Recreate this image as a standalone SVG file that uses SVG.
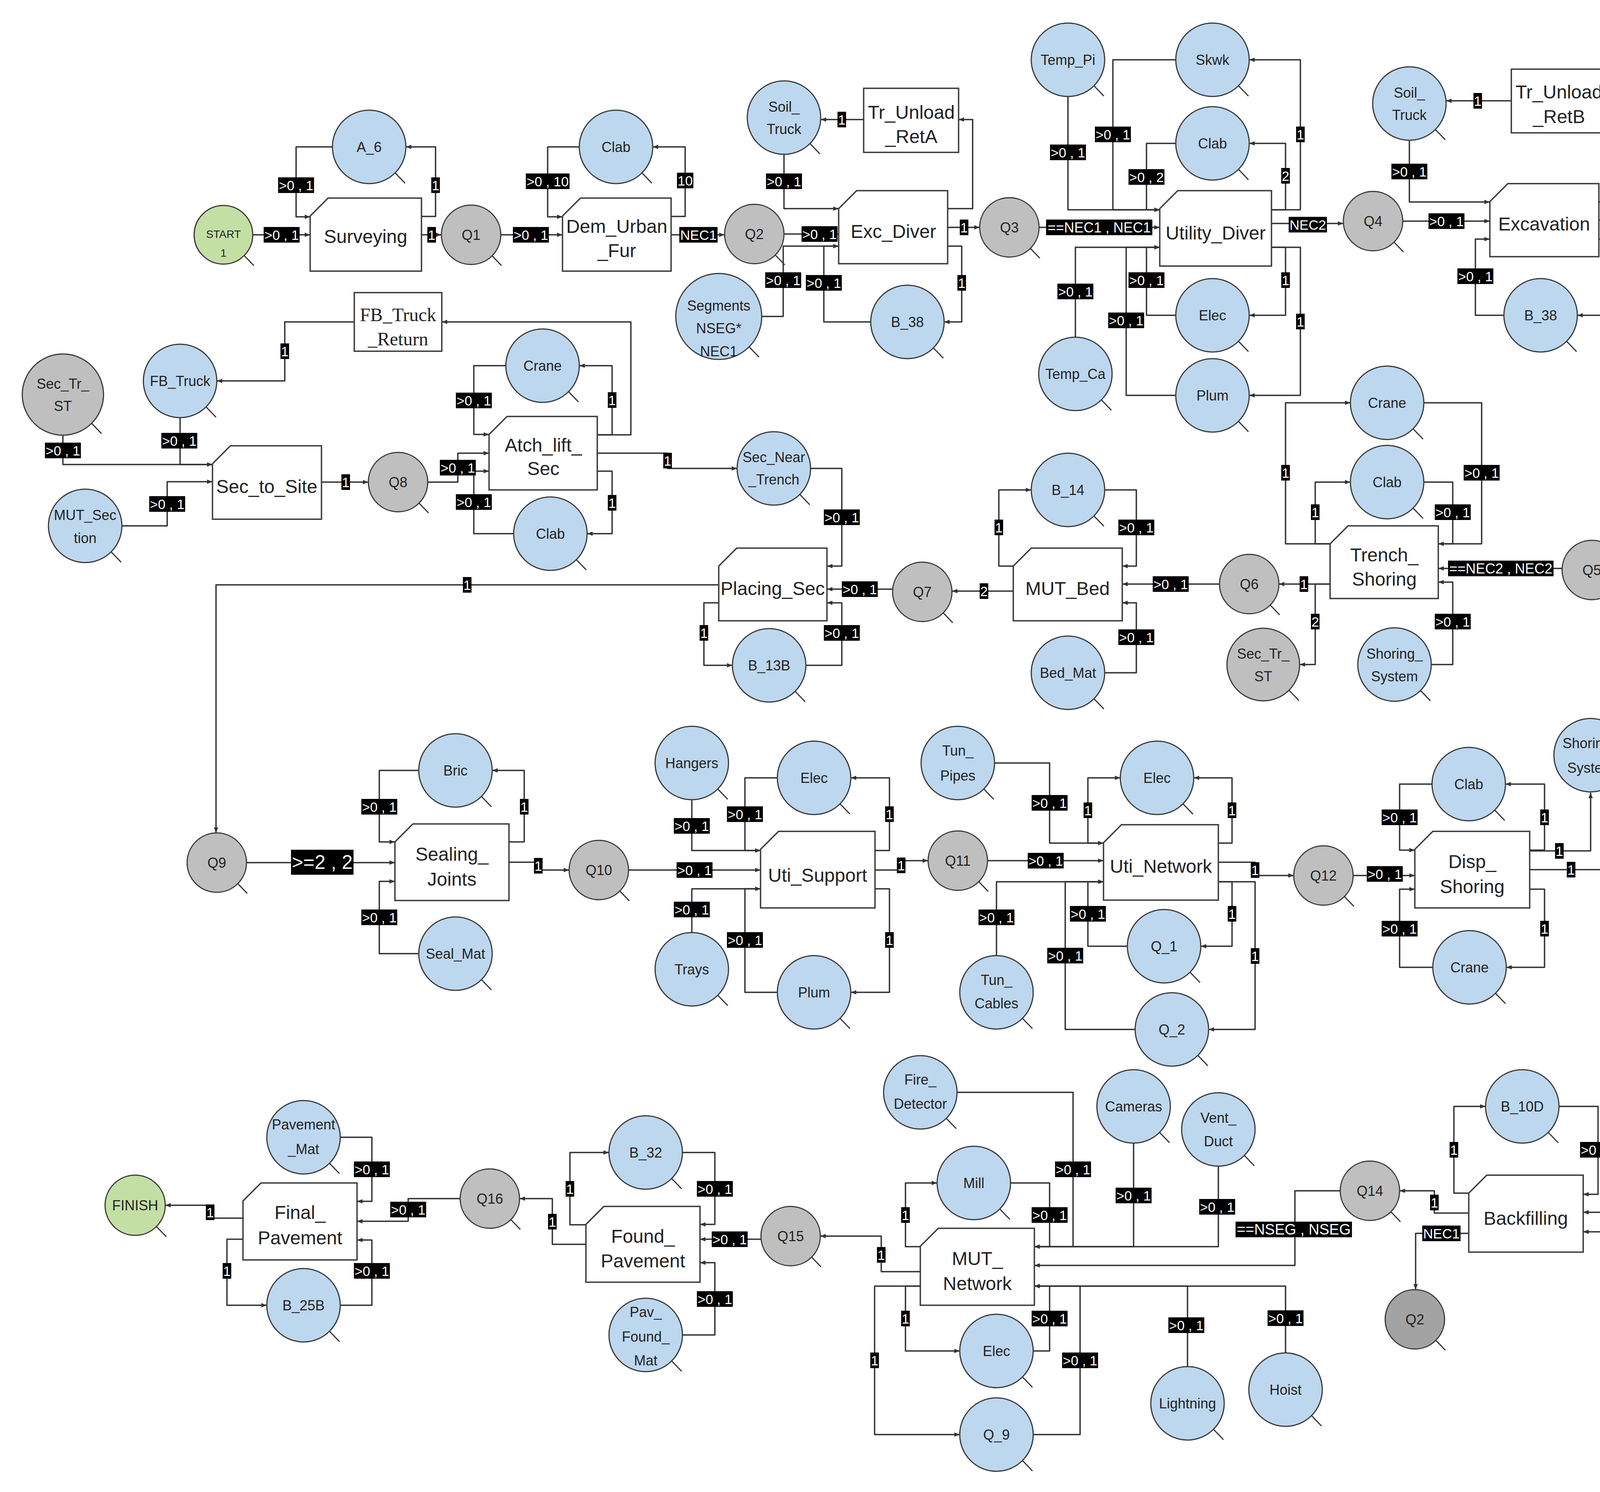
<svg xmlns="http://www.w3.org/2000/svg" width="4435" height="3819" viewBox="0 0 4435 3819">
<defs>
<marker id="a" viewBox="0 0 10 10" refX="10" refY="5" markerWidth="14" markerHeight="14" markerUnits="userSpaceOnUse" orient="auto"><path d="M0,1 L10,5 L0,9 z" fill="#333"/></marker>
<style>
.r{fill:#bdd7ee;stroke:#3a3a3a;stroke-width:3}
.q{fill:#bfbfbf;stroke:#3a3a3a;stroke-width:3}
.g{fill:#c4dfa4;stroke:#3a3a3a;stroke-width:3}
.d{fill:#a3a3a3;stroke:#3a3a3a;stroke-width:3}
.b{fill:#fff;stroke:#3a3a3a;stroke-width:3.5}
.t{stroke:#333;stroke-width:3}
.n{font-family:"Liberation Sans",Arial,sans-serif;font-size:36px;fill:#222;text-anchor:middle;dominant-baseline:central}
.bt{font-size:48px}
.sf{font-family:"Liberation Serif","Times New Roman",serif;font-size:48px}
.e{fill:none;stroke:#333;stroke-width:3.5;stroke-linejoin:round;marker-end:url(#a)}
.ln{fill:none;stroke:#333;stroke-width:3.5;stroke-linejoin:round}
.lb{fill:#000}
.lt{font-family:"Liberation Sans",Arial,sans-serif;font-size:35px;fill:#fff;text-anchor:middle;dominant-baseline:central}
</style>
</defs>
<rect width="4435" height="3819" fill="#fff"/>
<g id="connectors">
<path class="e" d="M648,601 H794"/>
<path class="e" d="M851,376 H758 V555 H794"/>
<path class="e" d="M1079,554 H1115 V376 H1039"/>
<path class="e" d="M1079,601 H1130"/>
<path class="e" d="M1282,601 H1440"/>
<path class="e" d="M1483,376 H1402 V555 H1440"/>
<path class="e" d="M1718,554 H1754 V376 H1671"/>
<path class="e" d="M1718,601 H1855"/>
<path class="e" d="M2007,599 H2147"/>
<path class="e" d="M2007,395 V534 H2147"/>
<path class="e" d="M1950,810 H2005 V630 H2147"/>
<path class="e" d="M2229,824 H2109 V630 H2147"/>
<path class="e" d="M2426,534 H2490 V306 H2454"/>
<path class="e" d="M2211,306 H2101"/>
<path class="e" d="M2426,630 H2462 V824 H2417"/>
<path class="e" d="M2426,582 H2508"/>
<path class="e" d="M2660,582 H2969"/>
<path class="e" d="M2734,247 V537 H2969"/>
<path class="e" d="M3010,153 H2849 V537 H2969"/>
<path class="e" d="M3010,367 H2935 V537 H2969"/>
<path class="e" d="M2753,863 V633 H2969"/>
<path class="e" d="M3010,807 H2935 V633 H2969"/>
<path class="e" d="M3010,1012 H2883 V633 H2969"/>
<path class="e" d="M3255,537 H3329 V153 H3198"/>
<path class="e" d="M3255,537 H3291 V367 H3198"/>
<path class="e" d="M3255,633 H3291 V807 H3198"/>
<path class="e" d="M3255,633 H3329 V1012 H3198"/>
<path class="e" d="M3255,572 H3439"/>
<path class="e" d="M3591,566 H3814"/>
<path class="e" d="M3608,359 V517 H3814"/>
<path class="e" d="M4093,517 H4148 V258 H4113"/>
<path class="e" d="M3869,258 H3702"/>
<path class="e" d="M4093,612 H4129 V807 H4038"/>
<path class="e" d="M3850,807 H3777 V612 H3814"/>
<path class="e" d="M4093,563 H4186 V1459 H4151"/>
<path class="e" d="M3999,1455 H3682"/>
<path class="e" d="M3405,1392 H3291 V1031 H3457"/>
<path class="e" d="M3405,1392 H3367 V1234 H3457"/>
<path class="e" d="M3645,1031 H3793 V1392 H3682"/>
<path class="e" d="M3645,1234 H3719 V1392 H3682"/>
<path class="e" d="M3405,1495 H3274"/>
<path class="e" d="M3405,1495 H3367 V1701 H3327"/>
<path class="e" d="M3664,1701 H3719 V1490 H3682"/>
<path class="e" d="M3122,1495 H2873"/>
<path class="e" d="M2594,1449 H2557 V1254 H2640"/>
<path class="e" d="M2828,1254 H2909 V1449 H2873"/>
<path class="e" d="M2828,1722 H2909 V1543 H2873"/>
<path class="e" d="M2594,1513 H2437"/>
<path class="e" d="M2285,1508 H2117"/>
<path class="e" d="M2075,1199 H2155 V1449 H2117"/>
<path class="e" d="M1840,1543 H1802 V1703 H1875"/>
<path class="e" d="M2063,1703 H2155 V1543 H2117"/>
<path class="e" d="M1840,1497 H553 V2132"/>
<path class="e" d="M1529,1160 H1709 V1199 H1887"/>
<path class="e" d="M1529,1113 H1615 V824 H1131"/>
<path class="e" d="M1529,1113 H1567 V936 H1483"/>
<path class="e" d="M1529,1206 H1567 V1366 H1503"/>
<path class="e" d="M1295,936 H1213 V1112 H1252"/>
<path class="e" d="M1095,1234 H1172 V1160 H1252"/>
<path class="e" d="M1315,1366 H1213 V1206 H1252"/>
<path class="e" d="M823,1234 H943"/>
<path class="e" d="M907,824 H729 V975 H555"/>
<path class="e" d="M461,1069 V1189 H544"/>
<path class="e" d="M161,1114 V1189 H544"/>
<path class="e" d="M312,1346 H428 V1233 H544"/>
<path class="e" d="M631,2208 H1011"/>
<path class="e" d="M1072,1972 H971 V2155 H1011"/>
<path class="e" d="M1303,2155 H1342 V1972 H1260"/>
<path class="e" d="M1072,2441 H971 V2256 H1011"/>
<path class="e" d="M1303,2207 H1378 V2227 H1457"/>
<path class="e" d="M1609,2227 H1947"/>
<path class="e" d="M1771,2047 V2177 H1947"/>
<path class="e" d="M1990,1991 H1907 V2177 H1947"/>
<path class="e" d="M2240,2177 H2277 V1991 H2178"/>
<path class="e" d="M1771,2387 V2275 H1947"/>
<path class="e" d="M1990,2540 H1907 V2275 H1947"/>
<path class="e" d="M2240,2275 H2277 V2540 H2178"/>
<path class="e" d="M2240,2227 H2307 V2203 H2376"/>
<path class="e" d="M2528,2203 H2825"/>
<path class="e" d="M2546,1953 H2687 V2158 H2825"/>
<path class="e" d="M2825,2158 H2785 V1991 H2868"/>
<path class="e" d="M3119,2158 H3154 V1991 H3056"/>
<path class="e" d="M2551,2446 V2257 H2825"/>
<path class="e" d="M2886,2422 H2785 V2257 H2825"/>
<path class="e" d="M2906,2635 H2727 V2257 H2825"/>
<path class="e" d="M3119,2207 H3213 V2241 H3312"/>
<path class="e" d="M3119,2257 H3154 V2422 H3074"/>
<path class="e" d="M3119,2257 H3213 V2635 H3094"/>
<path class="e" d="M3464,2241 H3622"/>
<path class="e" d="M3666,2007 H3583 V2176 H3622"/>
<path class="e" d="M3916,2176 H3954 V2007 H3854"/>
<path class="e" d="M3916,2178 H4072 V2029"/>
<path class="e" d="M3916,2226 H4130"/>
<path class="e" d="M3668,2476 H3583 V2276 H3622"/>
<path class="e" d="M3916,2276 H3954 V2476 H3856"/>
<path class="e" d="M4284,2226 H4323 V3103 H4053"/>
<path class="e" d="M3760,3054 H3722 V2832 H3803"/>
<path class="e" d="M3991,2832 H4091 V3057 H4053"/>
<path class="e" d="M4228,3247 V3153 H4053"/>
<path class="e" d="M3760,3105 H3672 V3048 H3583"/>
<path class="e" d="M3760,3157 H3624 V3301"/>
<path class="e" d="M3431,3048 H3315 V3239 H2648"/>
<path class="e" d="M3119,2985 V3191 H2648"/>
<path class="e" d="M2902,2926 V3191 H2648"/>
<path class="e" d="M2450,2796 H2747 V3191 H2648"/>
<path class="e" d="M2587,3028 H2687 V3191 H2648"/>
<path class="e" d="M2356,3191 H2318 V3028 H2399"/>
<path class="e" d="M3040,3498 V3292 H2648"/>
<path class="e" d="M3291,3463 V3292 H2648"/>
<path class="e" d="M2645,3458 H2687 V3292 H2648"/>
<path class="e" d="M2356,3292 H2318 V3458 H2457"/>
<path class="e" d="M2356,3292 H2239 V3672 H2457"/>
<path class="e" d="M2645,3672 H2765 V3292 H2648"/>
<path class="e" d="M2356,3255 H2256 V3164 H2100"/>
<path class="e" d="M1948,3172 H1792"/>
<path class="e" d="M1747,2950 H1830 V3134 H1792"/>
<path class="e" d="M1747,3417 H1830 V3232 H1792"/>
<path class="e" d="M1500,3135 H1459 V2950 H1559"/>
<path class="e" d="M1500,3185 H1414 V3068 H1330"/>
<path class="e" d="M1178,3068 H1045 V3126 H914"/>
<path class="e" d="M871,2911 H952 V3075 H914"/>
<path class="e" d="M871,3341 H952 V3174 H914"/>
<path class="e" d="M622,3172 H581 V3341 H683"/>
<path class="e" d="M622,3118 H538 V3085 H423"/>
<g id="labels">
<rect class="lb" x="675" y="581" width="92" height="40"/><text class="lt" x="721" y="601">&gt;0 , 1</text>
<rect class="lb" x="712" y="454" width="92" height="40"/><text class="lt" x="758" y="474">&gt;0 , 1</text>
<rect class="lb" x="1104" y="454" width="22" height="40"/><text class="lt" x="1115" y="474">1</text>
<rect class="lb" x="1094" y="581" width="22" height="40"/><text class="lt" x="1105" y="601">1</text>
<rect class="lb" x="1313" y="581" width="92" height="40"/><text class="lt" x="1359" y="601">&gt;0 , 1</text>
<rect class="lb" x="1346" y="444" width="112" height="40"/><text class="lt" x="1402" y="464">&gt;0 , 10</text>
<rect class="lb" x="1733" y="442" width="42" height="40"/><text class="lt" x="1754" y="462">10</text>
<rect class="lb" x="1739" y="581" width="98" height="40"/><text class="lt" x="1788" y="601">NEC1</text>
<rect class="lb" x="2052" y="579" width="92" height="40"/><text class="lt" x="2098" y="599">&gt;0 , 1</text>
<rect class="lb" x="1961" y="444" width="92" height="40"/><text class="lt" x="2007" y="464">&gt;0 , 1</text>
<rect class="lb" x="1959" y="697" width="92" height="40"/><text class="lt" x="2005" y="717">&gt;0 , 1</text>
<rect class="lb" x="2063" y="704" width="92" height="40"/><text class="lt" x="2109" y="724">&gt;0 , 1</text>
<rect class="lb" x="2144" y="286" width="22" height="40"/><text class="lt" x="2155" y="306">1</text>
<rect class="lb" x="2451" y="704" width="22" height="40"/><text class="lt" x="2462" y="724">1</text>
<rect class="lb" x="2457" y="562" width="22" height="40"/><text class="lt" x="2468" y="582">1</text>
<rect class="lb" x="2678" y="562" width="272" height="40"/><text class="lt" x="2814" y="582" style="font-size:36px">==NEC1 , NEC1</text>
<rect class="lb" x="2688" y="370" width="92" height="40"/><text class="lt" x="2734" y="390">&gt;0 , 1</text>
<rect class="lb" x="2803" y="324" width="92" height="40"/><text class="lt" x="2849" y="344">&gt;0 , 1</text>
<rect class="lb" x="2889" y="433" width="92" height="40"/><text class="lt" x="2935" y="453">&gt;0 , 2</text>
<rect class="lb" x="2707" y="726" width="92" height="40"/><text class="lt" x="2753" y="746">&gt;0 , 1</text>
<rect class="lb" x="2889" y="697" width="92" height="40"/><text class="lt" x="2935" y="717">&gt;0 , 1</text>
<rect class="lb" x="2837" y="800" width="92" height="40"/><text class="lt" x="2883" y="820">&gt;0 , 1</text>
<rect class="lb" x="3318" y="324" width="22" height="40"/><text class="lt" x="3329" y="344">1</text>
<rect class="lb" x="3280" y="430" width="22" height="40"/><text class="lt" x="3291" y="450">2</text>
<rect class="lb" x="3280" y="697" width="22" height="40"/><text class="lt" x="3291" y="717">1</text>
<rect class="lb" x="3318" y="803" width="22" height="40"/><text class="lt" x="3329" y="823">1</text>
<rect class="lb" x="3299" y="555" width="98" height="40"/><text class="lt" x="3348" y="575">NEC2</text>
<rect class="lb" x="3657" y="546" width="92" height="40"/><text class="lt" x="3703" y="566">&gt;0 , 1</text>
<rect class="lb" x="3562" y="419" width="92" height="40"/><text class="lt" x="3608" y="439">&gt;0 , 1</text>
<rect class="lb" x="3772" y="238" width="22" height="40"/><text class="lt" x="3783" y="258">1</text>
<rect class="lb" x="4118" y="687" width="22" height="40"/><text class="lt" x="4129" y="707">1</text>
<rect class="lb" x="3731" y="687" width="92" height="40"/><text class="lt" x="3777" y="707">&gt;0 , 1</text>
<rect class="lb" x="4175" y="992" width="22" height="40"/><text class="lt" x="4186" y="1012">1</text>
<rect class="lb" x="3707" y="1435" width="270" height="40"/><text class="lt" x="3842" y="1455" style="font-size:36px">==NEC2 , NEC2</text>
<rect class="lb" x="3280" y="1190" width="22" height="40"/><text class="lt" x="3291" y="1210">1</text>
<rect class="lb" x="3356" y="1291" width="22" height="40"/><text class="lt" x="3367" y="1311">1</text>
<rect class="lb" x="3747" y="1190" width="92" height="40"/><text class="lt" x="3793" y="1210">&gt;0 , 1</text>
<rect class="lb" x="3673" y="1291" width="92" height="40"/><text class="lt" x="3719" y="1311">&gt;0 , 1</text>
<rect class="lb" x="3327" y="1475" width="22" height="40"/><text class="lt" x="3338" y="1495">1</text>
<rect class="lb" x="3356" y="1571" width="22" height="40"/><text class="lt" x="3367" y="1591">2</text>
<rect class="lb" x="3673" y="1571" width="92" height="40"/><text class="lt" x="3719" y="1591">&gt;0 , 1</text>
<rect class="lb" x="2951" y="1475" width="92" height="40"/><text class="lt" x="2997" y="1495">&gt;0 , 1</text>
<rect class="lb" x="2546" y="1330" width="22" height="40"/><text class="lt" x="2557" y="1350">1</text>
<rect class="lb" x="2863" y="1330" width="92" height="40"/><text class="lt" x="2909" y="1350">&gt;0 , 1</text>
<rect class="lb" x="2863" y="1611" width="92" height="40"/><text class="lt" x="2909" y="1631">&gt;0 , 1</text>
<rect class="lb" x="2508" y="1493" width="22" height="40"/><text class="lt" x="2519" y="1513">2</text>
<rect class="lb" x="2155" y="1488" width="92" height="40"/><text class="lt" x="2201" y="1508">&gt;0 , 1</text>
<rect class="lb" x="2109" y="1304" width="92" height="40"/><text class="lt" x="2155" y="1324">&gt;0 , 1</text>
<rect class="lb" x="1791" y="1600" width="22" height="40"/><text class="lt" x="1802" y="1620">1</text>
<rect class="lb" x="2109" y="1600" width="92" height="40"/><text class="lt" x="2155" y="1620">&gt;0 , 1</text>
<rect class="lb" x="1185" y="1477" width="22" height="40"/><text class="lt" x="1196" y="1497">1</text>
<rect class="lb" x="1698" y="1159" width="22" height="40"/><text class="lt" x="1709" y="1179">1</text>
<rect class="lb" x="1556" y="1004" width="22" height="40"/><text class="lt" x="1567" y="1024">1</text>
<rect class="lb" x="1556" y="1267" width="22" height="40"/><text class="lt" x="1567" y="1287">1</text>
<rect class="lb" x="1167" y="1005" width="92" height="40"/><text class="lt" x="1213" y="1025">&gt;0 , 1</text>
<rect class="lb" x="1126" y="1177" width="92" height="40"/><text class="lt" x="1172" y="1197">&gt;0 , 1</text>
<rect class="lb" x="1167" y="1265" width="92" height="40"/><text class="lt" x="1213" y="1285">&gt;0 , 1</text>
<rect class="lb" x="874" y="1214" width="22" height="40"/><text class="lt" x="885" y="1234">1</text>
<rect class="lb" x="718" y="879" width="22" height="40"/><text class="lt" x="729" y="899">1</text>
<rect class="lb" x="413" y="1108" width="92" height="40"/><text class="lt" x="459" y="1128">&gt;0 , 1</text>
<rect class="lb" x="115" y="1133" width="92" height="40"/><text class="lt" x="161" y="1153">&gt;0 , 1</text>
<rect class="lb" x="382" y="1270" width="92" height="40"/><text class="lt" x="428" y="1290">&gt;0 , 1</text>
<rect class="lb" x="745" y="2175" width="160" height="64"/><text class="lt" x="825" y="2207" style="font-size:50px">&gt;=2 , 2</text>
<rect class="lb" x="925" y="2045" width="92" height="40"/><text class="lt" x="971" y="2065">&gt;0 , 1</text>
<rect class="lb" x="1331" y="2045" width="22" height="40"/><text class="lt" x="1342" y="2065">1</text>
<rect class="lb" x="925" y="2328" width="92" height="40"/><text class="lt" x="971" y="2348">&gt;0 , 1</text>
<rect class="lb" x="1367" y="2196" width="22" height="40"/><text class="lt" x="1378" y="2216">1</text>
<rect class="lb" x="1732" y="2207" width="92" height="40"/><text class="lt" x="1778" y="2227">&gt;0 , 1</text>
<rect class="lb" x="1725" y="2094" width="92" height="40"/><text class="lt" x="1771" y="2114">&gt;0 , 1</text>
<rect class="lb" x="1861" y="2064" width="92" height="40"/><text class="lt" x="1907" y="2084">&gt;0 , 1</text>
<rect class="lb" x="2266" y="2064" width="22" height="40"/><text class="lt" x="2277" y="2084">1</text>
<rect class="lb" x="1725" y="2308" width="92" height="40"/><text class="lt" x="1771" y="2328">&gt;0 , 1</text>
<rect class="lb" x="1861" y="2386" width="92" height="40"/><text class="lt" x="1907" y="2406">&gt;0 , 1</text>
<rect class="lb" x="2266" y="2386" width="22" height="40"/><text class="lt" x="2277" y="2406">1</text>
<rect class="lb" x="2296" y="2195" width="22" height="40"/><text class="lt" x="2307" y="2215">1</text>
<rect class="lb" x="2631" y="2183" width="92" height="40"/><text class="lt" x="2677" y="2203">&gt;0 , 1</text>
<rect class="lb" x="2641" y="2035" width="92" height="40"/><text class="lt" x="2687" y="2055">&gt;0 , 1</text>
<rect class="lb" x="2774" y="2054" width="22" height="40"/><text class="lt" x="2785" y="2074">1</text>
<rect class="lb" x="3143" y="2054" width="22" height="40"/><text class="lt" x="3154" y="2074">1</text>
<rect class="lb" x="2505" y="2328" width="92" height="40"/><text class="lt" x="2551" y="2348">&gt;0 , 1</text>
<rect class="lb" x="2739" y="2319" width="92" height="40"/><text class="lt" x="2785" y="2339">&gt;0 , 1</text>
<rect class="lb" x="2681" y="2426" width="92" height="40"/><text class="lt" x="2727" y="2446">&gt;0 , 1</text>
<rect class="lb" x="3202" y="2207" width="22" height="40"/><text class="lt" x="3213" y="2227">1</text>
<rect class="lb" x="3143" y="2319" width="22" height="40"/><text class="lt" x="3154" y="2339">1</text>
<rect class="lb" x="3202" y="2427" width="22" height="40"/><text class="lt" x="3213" y="2447">1</text>
<rect class="lb" x="3499" y="2217" width="92" height="40"/><text class="lt" x="3545" y="2237">&gt;0 , 1</text>
<rect class="lb" x="3537" y="2072" width="92" height="40"/><text class="lt" x="3583" y="2092">&gt;0 , 1</text>
<rect class="lb" x="3943" y="2072" width="22" height="40"/><text class="lt" x="3954" y="2092">1</text>
<rect class="lb" x="3981" y="2158" width="22" height="40"/><text class="lt" x="3992" y="2178">1</text>
<rect class="lb" x="4011" y="2206" width="22" height="40"/><text class="lt" x="4022" y="2226">1</text>
<rect class="lb" x="3537" y="2357" width="92" height="40"/><text class="lt" x="3583" y="2377">&gt;0 , 1</text>
<rect class="lb" x="3943" y="2357" width="22" height="40"/><text class="lt" x="3954" y="2377">1</text>
<rect class="lb" x="4277" y="2647" width="92" height="40"/><text class="lt" x="4323" y="2667">&gt;0 , 1</text>
<rect class="lb" x="3711" y="2923" width="22" height="40"/><text class="lt" x="3722" y="2943">1</text>
<rect class="lb" x="4045" y="2923" width="92" height="40"/><text class="lt" x="4091" y="2943">&gt;0 , 1</text>
<rect class="lb" x="4182" y="3180" width="92" height="40"/><text class="lt" x="4228" y="3200">&gt;0 , 1</text>
<rect class="lb" x="3661" y="3058" width="22" height="40"/><text class="lt" x="3672" y="3078">1</text>
<rect class="lb" x="3641" y="3137" width="98" height="40"/><text class="lt" x="3690" y="3157">NEC1</text>
<rect class="lb" x="3163" y="3127" width="298" height="40"/><text class="lt" x="3312" y="3147" style="font-size:38px">==NSEG , NSEG</text>
<rect class="lb" x="3070" y="3069" width="92" height="40"/><text class="lt" x="3116" y="3089">&gt;0 , 1</text>
<rect class="lb" x="2856" y="3040" width="92" height="40"/><text class="lt" x="2902" y="3060">&gt;0 , 1</text>
<rect class="lb" x="2701" y="2973" width="92" height="40"/><text class="lt" x="2747" y="2993">&gt;0 , 1</text>
<rect class="lb" x="2641" y="3090" width="92" height="40"/><text class="lt" x="2687" y="3110">&gt;0 , 1</text>
<rect class="lb" x="2307" y="3090" width="22" height="40"/><text class="lt" x="2318" y="3110">1</text>
<rect class="lb" x="2991" y="3372" width="92" height="40"/><text class="lt" x="3037" y="3392">&gt;0 , 1</text>
<rect class="lb" x="3245" y="3354" width="92" height="40"/><text class="lt" x="3291" y="3374">&gt;0 , 1</text>
<rect class="lb" x="2641" y="3355" width="92" height="40"/><text class="lt" x="2687" y="3375">&gt;0 , 1</text>
<rect class="lb" x="2307" y="3355" width="22" height="40"/><text class="lt" x="2318" y="3375">1</text>
<rect class="lb" x="2228" y="3462" width="22" height="40"/><text class="lt" x="2239" y="3482">1</text>
<rect class="lb" x="2719" y="3462" width="92" height="40"/><text class="lt" x="2765" y="3482">&gt;0 , 1</text>
<rect class="lb" x="2245" y="3192" width="22" height="40"/><text class="lt" x="2256" y="3212">1</text>
<rect class="lb" x="1822" y="3152" width="92" height="40"/><text class="lt" x="1868" y="3172">&gt;0 , 1</text>
<rect class="lb" x="1784" y="3023" width="92" height="40"/><text class="lt" x="1830" y="3043">&gt;0 , 1</text>
<rect class="lb" x="1784" y="3305" width="92" height="40"/><text class="lt" x="1830" y="3325">&gt;0 , 1</text>
<rect class="lb" x="1448" y="3023" width="22" height="40"/><text class="lt" x="1459" y="3043">1</text>
<rect class="lb" x="1403" y="3107" width="22" height="40"/><text class="lt" x="1414" y="3127">1</text>
<rect class="lb" x="999" y="3076" width="92" height="40"/><text class="lt" x="1045" y="3096">&gt;0 , 1</text>
<rect class="lb" x="906" y="2973" width="92" height="40"/><text class="lt" x="952" y="2993">&gt;0 , 1</text>
<rect class="lb" x="906" y="3233" width="92" height="40"/><text class="lt" x="952" y="3253">&gt;0 , 1</text>
<rect class="lb" x="570" y="3233" width="22" height="40"/><text class="lt" x="581" y="3253">1</text>
<rect class="lb" x="527" y="3083" width="22" height="40"/><text class="lt" x="538" y="3103">1</text>
</g>
</g>
<g id="boxes">
<g id="Surveying"><path class="b" d="M794,553 L840,507 H1079 V694 H794 Z"/><text class="n bt" x="936" y="605">Surveying</text></g>
<g id="Dem_Urban_Fur"><path class="b" d="M1440,553 L1486,507 H1718 V694 H1440 Z"/><text class="n bt" x="1579" y="579">Dem_Urban</text><text class="n bt" x="1579" y="641">_Fur</text></g>
<g id="Exc_Diver"><path class="b" d="M2147,534 L2193,488 H2426 V675 H2147 Z"/><text class="n bt" x="2287" y="592">Exc_Diver</text></g>
<g id="Tr_Unload_RetA"><rect class="b" x="2211" y="226" width="243" height="164"/><text class="n bt" x="2333" y="287">Tr_Unload</text><text class="n bt" x="2333" y="349">_RetA</text></g>
<g id="Utility_Diver"><path class="b" d="M2969,534 L3015,488 H3255 V681 H2969 Z"/><text class="n bt" x="3112" y="596">Utility_Diver</text></g>
<g id="Tr_Unload_RetB"><rect class="b" x="3869" y="177" width="244" height="163"/><text class="n bt" x="3991" y="235">Tr_Unload</text><text class="n bt" x="3991" y="298">_RetB</text></g>
<g id="Excavation"><path class="b" d="M3814,516 L3860,470 H4093 V657 H3814 Z"/><text class="n bt" x="3953" y="573">Excavation</text></g>
<g id="Trench_Shoring"><path class="b" d="M3405,1392 L3451,1346 H3682 V1532 H3405 Z"/><text class="n bt" x="3544" y="1420">Trench_</text><text class="n bt" x="3544" y="1482">Shoring</text></g>
<g id="MUT_Bed"><path class="b" d="M2594,1449 L2640,1403 H2873 V1589 H2594 Z"/><text class="n bt" x="2733" y="1506">MUT_Bed</text></g>
<g id="Placing_Sec"><path class="b" d="M1840,1449 L1886,1403 H2117 V1589 H1840 Z"/><text class="n bt" x="1978" y="1506">Placing_Sec</text></g>
<g id="Atch_lift_Sec"><path class="b" d="M1252,1112 L1298,1066 H1529 V1254 H1252 Z"/><text class="n bt" x="1391" y="1139">Atch_lift_</text><text class="n bt" x="1391" y="1199">Sec</text></g>
<g id="FB_Truck_Return"><rect class="b" x="907" y="749" width="224" height="150"/><text class="n sf" x="1019" y="805">FB_Truck</text><text class="n sf" x="1019" y="867">_Return</text></g>
<g id="Sec_to_Site"><path class="b" d="M544,1187 L590,1141 H823 V1329 H544 Z"/><text class="n bt" x="683" y="1245">Sec_to_Site</text></g>
<g id="Sealing_Joints"><path class="b" d="M1011,2155 L1057,2109 H1303 V2305 H1011 Z"/><text class="n bt" x="1157" y="2186">Sealing_</text><text class="n bt" x="1157" y="2250">Joints</text></g>
<g id="Uti_Support"><path class="b" d="M1947,2174 L1993,2128 H2240 V2324 H1947 Z"/><text class="n bt" x="2093" y="2240">Uti_Support</text></g>
<g id="Uti_Network"><path class="b" d="M2825,2157 L2871,2111 H3119 V2304 H2825 Z"/><text class="n bt" x="2972" y="2217">Uti_Network</text></g>
<g id="Disp_Shoring"><path class="b" d="M3622,2174 L3668,2128 H3916 V2324 H3622 Z"/><text class="n bt" x="3769" y="2205">Disp_</text><text class="n bt" x="3769" y="2269">Shoring</text></g>
<g id="Backfilling"><path class="b" d="M3760,3054 L3806,3008 H4053 V3205 H3760 Z"/><text class="n bt" x="3906" y="3118">Backfilling</text></g>
<g id="MUT_Network"><path class="b" d="M2356,3190 L2402,3144 H2648 V3341 H2356 Z"/><text class="n bt" x="2502" y="3221">MUT_</text><text class="n bt" x="2502" y="3285">Network</text></g>
<g id="Found_Pavement"><path class="b" d="M1500,3134 L1546,3088 H1792 V3282 H1500 Z"/><text class="n bt" x="1646" y="3164">Found_</text><text class="n bt" x="1646" y="3227">Pavement</text></g>
<g id="Final_Pavement"><path class="b" d="M622,3074 L668,3028 H914 V3225 H622 Z"/><text class="n bt" x="768" y="3103">Final_</text><text class="n bt" x="768" y="3168">Pavement</text></g>
</g>
<g id="circles">
<g id="START"><circle class="g" cx="572" cy="601" r="75"/><line class="t" x1="625" y1="654" x2="650" y2="680"/><text class="n" x="572" y="599" style="font-size:28px">START</text><text class="n" x="572" y="647" style="font-size:28px">1</text></g>
<g id="A_6"><circle class="r" cx="945" cy="376" r="94"/><line class="t" x1="1011" y1="442" x2="1037" y2="469"/><text class="n" x="945" y="376">A_6</text></g>
<g id="Q1"><circle class="q" cx="1206" cy="601" r="76"/><line class="t" x1="1259" y1="654" x2="1284" y2="680"/><text class="n" x="1206" y="601">Q1</text></g>
<g id="Clab_1"><circle class="r" cx="1577" cy="376" r="94"/><line class="t" x1="1643" y1="442" x2="1669" y2="469"/><text class="n" x="1577" y="376">Clab</text></g>
<g id="Q2"><circle class="q" cx="1931" cy="599" r="76"/><line class="t" x1="1984" y1="652" x2="2009" y2="678"/><text class="n" x="1931" y="599">Q2</text></g>
<g id="Soil_Truck_A"><circle class="r" cx="2007" cy="301" r="94"/><line class="t" x1="2073" y1="367" x2="2099" y2="394"/><text class="n" x="2007" y="273">Soil_</text><text class="n" x="2007" y="330">Truck</text></g>
<g id="Segments"><circle class="r" cx="1840" cy="810" r="110"/><line class="t" x1="1917" y1="887" x2="1943" y2="914"/><text class="n" x="1840" y="782">Segments</text><text class="n" x="1840" y="840">NSEG*</text><text class="n" x="1840" y="899">NEC1</text></g>
<g id="B_38_A"><circle class="r" cx="2323" cy="824" r="94"/><line class="t" x1="2389" y1="890" x2="2415" y2="917"/><text class="n" x="2323" y="824">B_38</text></g>
<g id="Q3"><circle class="q" cx="2584" cy="582" r="76"/><line class="t" x1="2637" y1="635" x2="2662" y2="661"/><text class="n" x="2584" y="582">Q3</text></g>
<g id="Temp_Pi"><circle class="r" cx="2734" cy="153" r="94"/><line class="t" x1="2800" y1="219" x2="2826" y2="246"/><text class="n" x="2734" y="153">Temp_Pi</text></g>
<g id="Skwk"><circle class="r" cx="3104" cy="153" r="94"/><line class="t" x1="3170" y1="219" x2="3196" y2="246"/><text class="n" x="3104" y="153">Skwk</text></g>
<g id="Clab_2"><circle class="r" cx="3104" cy="367" r="94"/><line class="t" x1="3170" y1="433" x2="3196" y2="460"/><text class="n" x="3104" y="367">Clab</text></g>
<g id="Elec_1"><circle class="r" cx="3104" cy="807" r="94"/><line class="t" x1="3170" y1="873" x2="3196" y2="900"/><text class="n" x="3104" y="807">Elec</text></g>
<g id="Plum_1"><circle class="r" cx="3104" cy="1012" r="94"/><line class="t" x1="3170" y1="1078" x2="3196" y2="1105"/><text class="n" x="3104" y="1012">Plum</text></g>
<g id="Temp_Ca"><circle class="r" cx="2753" cy="957" r="94"/><line class="t" x1="2819" y1="1023" x2="2845" y2="1050"/><text class="n" x="2753" y="957">Temp_Ca</text></g>
<g id="Q4"><circle class="q" cx="3515" cy="566" r="76"/><line class="t" x1="3568" y1="619" x2="3593" y2="645"/><text class="n" x="3515" y="566">Q4</text></g>
<g id="Soil_Truck_B"><circle class="r" cx="3608" cy="265" r="94"/><line class="t" x1="3674" y1="331" x2="3700" y2="358"/><text class="n" x="3608" y="237">Soil_</text><text class="n" x="3608" y="294">Truck</text></g>
<g id="B_38_B"><circle class="r" cx="3944" cy="807" r="94"/><line class="t" x1="4010" y1="873" x2="4036" y2="900"/><text class="n" x="3944" y="807">B_38</text></g>
<g id="Q5"><circle class="q" cx="4075" cy="1459" r="76"/><line class="t" x1="4128" y1="1512" x2="4153" y2="1538"/><text class="n" x="4075" y="1459">Q5</text></g>
<g id="Crane_1"><circle class="r" cx="3551" cy="1031" r="94"/><line class="t" x1="3617" y1="1097" x2="3643" y2="1124"/><text class="n" x="3551" y="1031">Crane</text></g>
<g id="Clab_3"><circle class="r" cx="3551" cy="1234" r="94"/><line class="t" x1="3617" y1="1300" x2="3643" y2="1327"/><text class="n" x="3551" y="1234">Clab</text></g>
<g id="Q6"><circle class="q" cx="3198" cy="1495" r="76"/><line class="t" x1="3251" y1="1548" x2="3276" y2="1574"/><text class="n" x="3198" y="1495">Q6</text></g>
<g id="Sec_Tr_ST_2"><circle class="q" cx="3234" cy="1701" r="93"/><line class="t" x1="3299" y1="1766" x2="3325" y2="1793"/><text class="n" x="3234" y="1673">Sec_Tr_</text><text class="n" x="3234" y="1731">ST</text></g>
<g id="Shoring_System_1"><circle class="r" cx="3570" cy="1701" r="94"/><line class="t" x1="3636" y1="1767" x2="3662" y2="1794"/><text class="n" x="3570" y="1673">Shoring_</text><text class="n" x="3570" y="1731">System</text></g>
<g id="B_14"><circle class="r" cx="2734" cy="1254" r="94"/><line class="t" x1="2800" y1="1320" x2="2826" y2="1347"/><text class="n" x="2734" y="1254">B_14</text></g>
<g id="Bed_Mat"><circle class="r" cx="2734" cy="1722" r="94"/><line class="t" x1="2800" y1="1788" x2="2826" y2="1815"/><text class="n" x="2734" y="1722">Bed_Mat</text></g>
<g id="Q7"><circle class="q" cx="2361" cy="1515" r="76"/><line class="t" x1="2414" y1="1568" x2="2439" y2="1594"/><text class="n" x="2361" y="1515">Q7</text></g>
<g id="Sec_Near_Trench"><circle class="r" cx="1981" cy="1199" r="94"/><line class="t" x1="2047" y1="1265" x2="2073" y2="1292"/><text class="n" x="1981" y="1170">Sec_Near</text><text class="n" x="1981" y="1227">_Trench</text></g>
<g id="B_13B"><circle class="r" cx="1969" cy="1703" r="94"/><line class="t" x1="2035" y1="1769" x2="2061" y2="1796"/><text class="n" x="1969" y="1703">B_13B</text></g>
<g id="Crane_2"><circle class="r" cx="1389" cy="936" r="94"/><line class="t" x1="1455" y1="1002" x2="1481" y2="1029"/><text class="n" x="1389" y="936">Crane</text></g>
<g id="Clab_4"><circle class="r" cx="1409" cy="1366" r="94"/><line class="t" x1="1475" y1="1432" x2="1501" y2="1459"/><text class="n" x="1409" y="1366">Clab</text></g>
<g id="Q8"><circle class="q" cx="1019" cy="1234" r="76"/><line class="t" x1="1072" y1="1287" x2="1097" y2="1313"/><text class="n" x="1019" y="1234">Q8</text></g>
<g id="FB_Truck"><circle class="r" cx="461" cy="975" r="94"/><line class="t" x1="527" y1="1041" x2="553" y2="1068"/><text class="n" x="461" y="975">FB_Truck</text></g>
<g id="Sec_Tr_ST_1"><circle class="q" cx="161" cy="1010" r="104"/><line class="t" x1="234" y1="1083" x2="260" y2="1110"/><text class="n" x="161" y="982">Sec_Tr_</text><text class="n" x="161" y="1039">ST</text></g>
<g id="MUT_Section"><circle class="r" cx="218" cy="1346" r="94"/><line class="t" x1="284" y1="1412" x2="310" y2="1439"/><text class="n" x="218" y="1318">MUT_Sec</text><text class="n" x="218" y="1377">tion</text></g>
<g id="Q9"><circle class="q" cx="555" cy="2208" r="76"/><line class="t" x1="608" y1="2261" x2="633" y2="2287"/><text class="n" x="555" y="2208">Q9</text></g>
<g id="Bric"><circle class="r" cx="1166" cy="1972" r="94"/><line class="t" x1="1232" y1="2038" x2="1258" y2="2065"/><text class="n" x="1166" y="1972">Bric</text></g>
<g id="Seal_Mat"><circle class="r" cx="1166" cy="2441" r="94"/><line class="t" x1="1232" y1="2507" x2="1258" y2="2534"/><text class="n" x="1166" y="2441">Seal_Mat</text></g>
<g id="Q10"><circle class="q" cx="1533" cy="2227" r="76"/><line class="t" x1="1586" y1="2280" x2="1611" y2="2306"/><text class="n" x="1533" y="2227">Q10</text></g>
<g id="Hangers"><circle class="r" cx="1771" cy="1953" r="94"/><line class="t" x1="1837" y1="2019" x2="1863" y2="2046"/><text class="n" x="1771" y="1953">Hangers</text></g>
<g id="Elec_2"><circle class="r" cx="2084" cy="1991" r="94"/><line class="t" x1="2150" y1="2057" x2="2176" y2="2084"/><text class="n" x="2084" y="1991">Elec</text></g>
<g id="Trays"><circle class="r" cx="1771" cy="2481" r="94"/><line class="t" x1="1837" y1="2547" x2="1863" y2="2574"/><text class="n" x="1771" y="2481">Trays</text></g>
<g id="Plum_2"><circle class="r" cx="2084" cy="2540" r="94"/><line class="t" x1="2150" y1="2606" x2="2176" y2="2633"/><text class="n" x="2084" y="2540">Plum</text></g>
<g id="Q11"><circle class="q" cx="2452" cy="2203" r="76"/><line class="t" x1="2505" y1="2256" x2="2530" y2="2282"/><text class="n" x="2452" y="2203">Q11</text></g>
<g id="Tun_Pipes"><circle class="r" cx="2452" cy="1953" r="94"/><line class="t" x1="2518" y1="2019" x2="2544" y2="2046"/><text class="n" x="2452" y="1921">Tun_</text><text class="n" x="2452" y="1985">Pipes</text></g>
<g id="Elec_3"><circle class="r" cx="2962" cy="1991" r="94"/><line class="t" x1="3028" y1="2057" x2="3054" y2="2084"/><text class="n" x="2962" y="1991">Elec</text></g>
<g id="Tun_Cables"><circle class="r" cx="2551" cy="2540" r="94"/><line class="t" x1="2617" y1="2606" x2="2643" y2="2633"/><text class="n" x="2551" y="2508">Tun_</text><text class="n" x="2551" y="2568">Cables</text></g>
<g id="Q_1"><circle class="r" cx="2980" cy="2422" r="94"/><line class="t" x1="3046" y1="2488" x2="3072" y2="2515"/><text class="n" x="2980" y="2422">Q_1</text></g>
<g id="Q_2"><circle class="r" cx="3000" cy="2635" r="94"/><line class="t" x1="3066" y1="2701" x2="3092" y2="2728"/><text class="n" x="3000" y="2635">Q_2</text></g>
<g id="Q12"><circle class="q" cx="3388" cy="2241" r="76"/><line class="t" x1="3441" y1="2294" x2="3466" y2="2320"/><text class="n" x="3388" y="2241">Q12</text></g>
<g id="Clab_5"><circle class="r" cx="3760" cy="2007" r="94"/><line class="t" x1="3826" y1="2073" x2="3852" y2="2100"/><text class="n" x="3760" y="2007">Clab</text></g>
<g id="Shoring_System_2"><circle class="r" cx="4072" cy="1933" r="94"/><line class="t" x1="4138" y1="1999" x2="4164" y2="2026"/><text class="n" x="4072" y="1902">Shoring_</text><text class="n" x="4072" y="1965">System</text></g>
<g id="Crane_3"><circle class="r" cx="3762" cy="2476" r="94"/><line class="t" x1="3828" y1="2542" x2="3854" y2="2569"/><text class="n" x="3762" y="2476">Crane</text></g>
<g id="Q13"><circle class="q" cx="4208" cy="2226" r="76"/><line class="t" x1="4261" y1="2279" x2="4286" y2="2305"/><text class="n" x="4208" y="2226">Q13</text></g>
<g id="B_10D"><circle class="r" cx="3897" cy="2832" r="94"/><line class="t" x1="3963" y1="2898" x2="3989" y2="2925"/><text class="n" x="3897" y="2832">B_10D</text></g>
<g id="Fill_Mat"><circle class="r" cx="4228" cy="3341" r="94"/><line class="t" x1="4294" y1="3407" x2="4320" y2="3434"/><text class="n" x="4228" y="3341">Fill_Mat</text></g>
<g id="Q14"><circle class="q" cx="3507" cy="3048" r="76"/><line class="t" x1="3560" y1="3101" x2="3585" y2="3127"/><text class="n" x="3507" y="3048">Q14</text></g>
<g id="Q2_B"><circle class="d" cx="3622" cy="3377" r="76"/><line class="t" x1="3675" y1="3430" x2="3700" y2="3456"/><text class="n" x="3622" y="3377">Q2</text></g>
<g id="Vent_Duct"><circle class="r" cx="3119" cy="2891" r="94"/><line class="t" x1="3185" y1="2957" x2="3211" y2="2984"/><text class="n" x="3119" y="2861">Vent_</text><text class="n" x="3119" y="2921">Duct</text></g>
<g id="Lightning"><circle class="r" cx="3040" cy="3592" r="94"/><line class="t" x1="3106" y1="3658" x2="3132" y2="3685"/><text class="n" x="3040" y="3592">Lightning</text></g>
<g id="Hoist"><circle class="r" cx="3291" cy="3557" r="94"/><line class="t" x1="3357" y1="3623" x2="3383" y2="3650"/><text class="n" x="3291" y="3557">Hoist</text></g>
<g id="Fire_Detector"><circle class="r" cx="2356" cy="2796" r="94"/><line class="t" x1="2422" y1="2862" x2="2448" y2="2889"/><text class="n" x="2356" y="2763">Fire_</text><text class="n" x="2356" y="2825">Detector</text></g>
<g id="Cameras"><circle class="r" cx="2902" cy="2832" r="94"/><line class="t" x1="2968" y1="2898" x2="2994" y2="2925"/><text class="n" x="2902" y="2832">Cameras</text></g>
<g id="Mill"><circle class="r" cx="2493" cy="3028" r="94"/><line class="t" x1="2559" y1="3094" x2="2585" y2="3121"/><text class="n" x="2493" y="3028">Mill</text></g>
<g id="Elec_4"><circle class="r" cx="2551" cy="3458" r="94"/><line class="t" x1="2617" y1="3524" x2="2643" y2="3551"/><text class="n" x="2551" y="3458">Elec</text></g>
<g id="Q_9"><circle class="r" cx="2551" cy="3672" r="94"/><line class="t" x1="2617" y1="3738" x2="2643" y2="3765"/><text class="n" x="2551" y="3672">Q_9</text></g>
<g id="Q15"><circle class="q" cx="2024" cy="3164" r="76"/><line class="t" x1="2077" y1="3217" x2="2102" y2="3243"/><text class="n" x="2024" y="3164">Q15</text></g>
<g id="B_32"><circle class="r" cx="1653" cy="2950" r="94"/><line class="t" x1="1719" y1="3016" x2="1745" y2="3043"/><text class="n" x="1653" y="2950">B_32</text></g>
<g id="Pav_Found_Mat"><circle class="r" cx="1653" cy="3417" r="94"/><line class="t" x1="1719" y1="3483" x2="1745" y2="3510"/><text class="n" x="1653" y="3358">Pav_</text><text class="n" x="1653" y="3421">Found_</text><text class="n" x="1653" y="3482">Mat</text></g>
<g id="Q16"><circle class="q" cx="1254" cy="3068" r="76"/><line class="t" x1="1307" y1="3121" x2="1332" y2="3147"/><text class="n" x="1254" y="3068">Q16</text></g>
<g id="Pavement_Mat"><circle class="r" cx="777" cy="2911" r="94"/><line class="t" x1="843" y1="2977" x2="869" y2="3004"/><text class="n" x="777" y="2878">Pavement</text><text class="n" x="777" y="2941">_Mat</text></g>
<g id="B_25B"><circle class="r" cx="777" cy="3341" r="94"/><line class="t" x1="843" y1="3407" x2="869" y2="3434"/><text class="n" x="777" y="3341">B_25B</text></g>
<g id="FINISH"><circle class="g" cx="346" cy="3085" r="77"/><line class="t" x1="400" y1="3139" x2="426" y2="3166"/><text class="n" x="346" y="3085" style="font-size:36px">FINISH</text></g>
</g>
</svg>
